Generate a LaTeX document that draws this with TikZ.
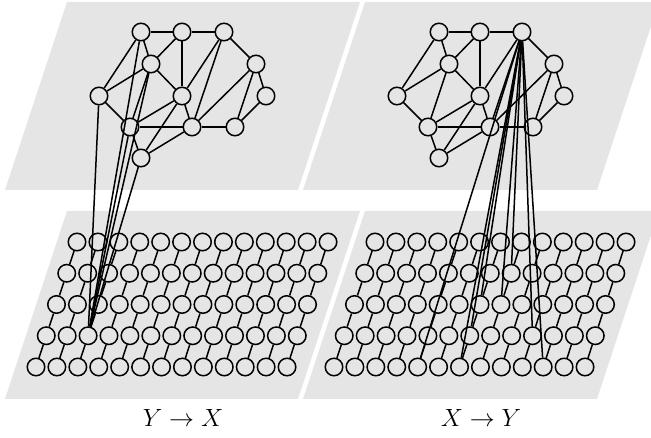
\documentclass[tikz,border=0pt]{standalone}
\begin{document}
\begin{tikzpicture}[x=1pt,y=-1pt,
  nd/.style={circle,draw,line width=1.5pt,minimum size=17.5pt,inner sep=0pt},
  ed/.style={line width=1.5pt},
  plane/.style={fill=gray!20},
  lbl/.style={font=\fontsize{23}{27}\selectfont}]
\useasboundingbox (0,0) rectangle (651,438);
\begin{scope}
\clip (0,0) rectangle (651,438);
% planes
\fill[plane] (5,190) -- (298,190) -- (360,2) -- (67,2) -- cycle;
\fill[plane] (303,190) -- (597,190) -- (659,2) -- (365,2) -- cycle;
\fill[plane] (5,399) -- (298,399) -- (360,211) -- (67,211) -- cycle;
\fill[plane] (303,399) -- (597,399) -- (659,211) -- (365,211) -- cycle;
\end{scope}
% lower grids
\foreach \r in {0,...,4} \foreach \c in {0,...,12} {
  \node[nd] (L-\r-\c) at ({77-10.25*\r+20.92*\c},{242+31.25*\r}) {};
  \node[nd] (R-\r-\c) at ({375-10.25*\r+20.92*\c},{242+31.25*\r}) {};
}
\foreach \r/\s in {0/1,1/2,2/3,3/4} \foreach \c in {0,...,12} {
  \draw[ed] (L-\r-\c) -- (L-\s-\c);
  \draw[ed] (R-\r-\c) -- (R-\s-\c);
}
% upper graphs
\foreach \n/\px/\py in {A/141/32, B/182/32, C/224/32, D/151/64, E/256/64, F/99/96, G/182/96, H/266/96, I/130/127, J/192/127, K/235/127, L/141/158} {
  \node[nd] (l\n) at (\px,\py) {};
  \node[nd] (r\n) at ({\px+298},\py) {};
}
\foreach \a/\b in {A/B, B/C, A/D, A/F, B/D, B/G, C/G, C/J, C/E, D/F, D/G, D/I, E/H, E/K, E/J, G/I, G/J, G/L, F/I, I/J, J/K, I/L, J/L, H/K} {
  \draw[ed] (l\a) -- (l\b);
  \draw[ed] (r\a) -- (r\b);
}
% inter-layer connections
\foreach \a in {A,D,F,I,L} \draw[ed] (l\a) -- (L-3-2);
\foreach \t in {4-4, 4-6, 3-6, 2-6, 2-7, 1-7, 3-9, 4-10} \draw[ed] (rC) -- (R-\t);
% labels
\node[lbl] (labl) at (183,418) {$Y\rightarrow X$};
\node[lbl] (labr) at (481,418) {$X\rightarrow Y$};
\end{tikzpicture}
\end{document}
